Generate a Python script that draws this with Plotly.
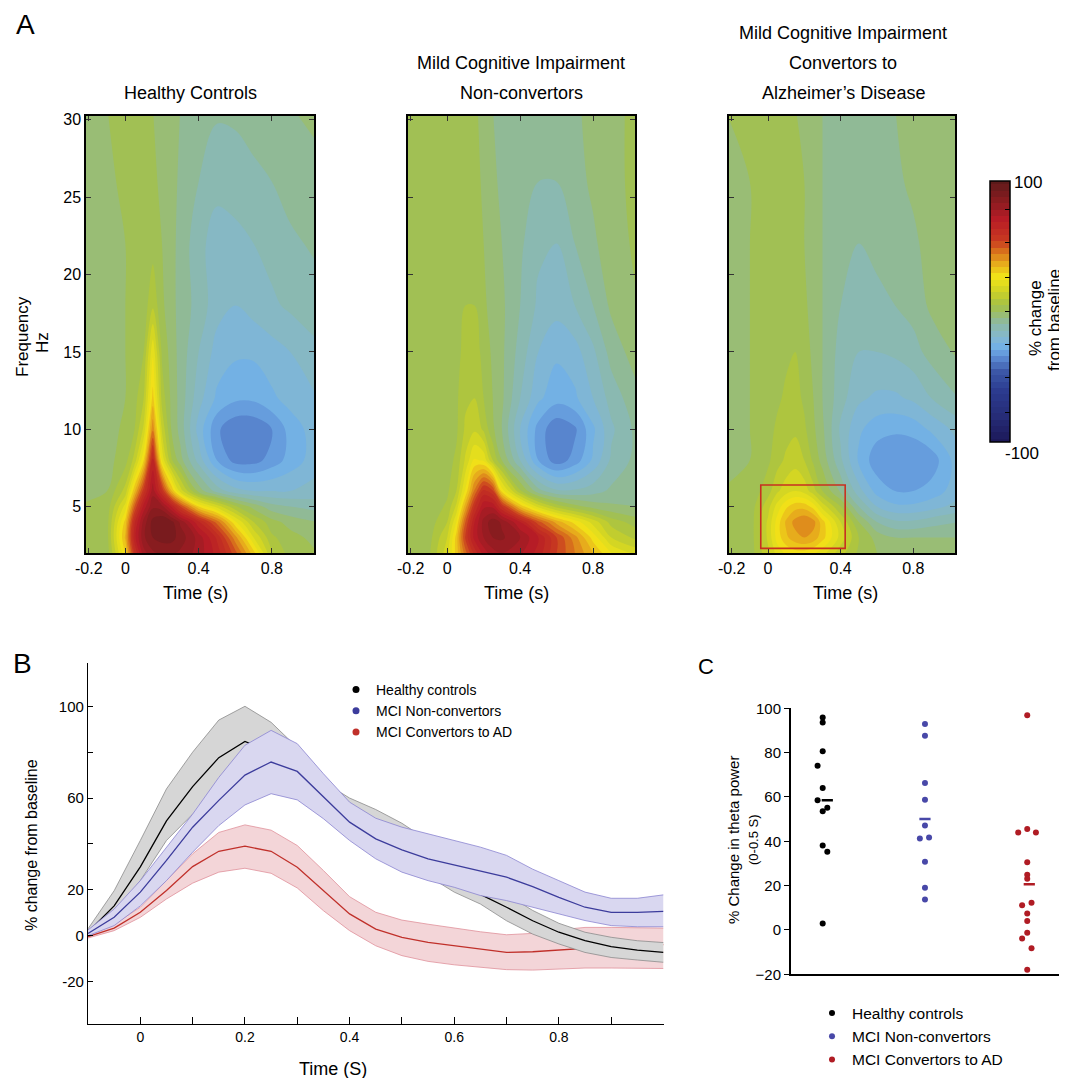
import numpy as np
import plotly.graph_objects as go

# page is drawn with the browser's 8px body margin, so place things in page pixels
PAGE_W, PAGE_H, OFF = 1067, 1078, 8
W, H = PAGE_W - OFF, PAGE_H - OFF

# ── Panel A: time-frequency maps (% change from baseline) ─────────────────────
tf_time = [-0.25, -0.1, 0, 0.05, 0.1, 0.15, 0.2, 0.25, 0.3, 0.4, 0.5, 0.6, 0.7, 0.8, 0.9, 1.05]
tf_freq = [2, 3, 4, 5, 6, 8, 10, 12, 15, 18, 22, 26, 31]

hc_power = [
    [0, 2, 30, 60, 78, 84, 86, 86, 84, 78, 68, 52, 32, 10, 3, 0],
    [0, 3, 36, 68, 84, 90, 92, 92, 88, 78, 64, 42, 20, 6, 2, -2],
    [0, 3, 32, 64, 82, 92, 95, 92, 84, 66, 48, 26, 10, 2, -2, -5],
    [0, 2, 22, 50, 72, 84, 82, 70, 55, 30, 18, 6, -2, -8, -10, -12],
    [-2, 0, 12, 34, 58, 78, 60, 36, 18, -2, -12, -18, -20, -20, -20, -18],
    [-4, -2, 3, 12, 30, 66, 24, 6, -3, -17, -30, -37, -37, -33, -28, -22],
    [-4, -2, 1, 5, 16, 44, 14, 0, -7, -22, -34, -39, -39, -35, -28, -22],
    [-3, -2, 0, 3, 10, 32, 8, -1, -7, -18, -26, -29, -29, -26, -23, -20],
    [-2, -2, 0, 1, 5, 24, 4, -2, -7, -15, -22, -24, -24, -22, -20, -16],
    [-2, -2, 0, 1, 2, 9, 1, -3, -7, -12, -18, -20, -18, -16, -14, -12],
    [-2, -1, 0, 1, 1, 3, 0, -3, -7, -13, -18, -17, -15, -13, -11, -9],
    [-2, -1, 1, 1, 1, 1, -1, -3, -6, -10, -13, -12, -11, -10, -8, -6],
    [-1, 0, 1, 2, 1, 0, -1, -3, -5, -8, -9, -9, -8, -7, -5, -4],
]
nc_power = [
    [2, 4, 18, 32, 48, 62, 72, 78, 80, 76, 68, 55, 45, 35, 25, 18],
    [2, 3, 15, 32, 56, 72, 80, 85, 86, 80, 70, 55, 42, 28, 15, 8],
    [1, 2, 10, 25, 50, 70, 82, 88, 84, 70, 52, 38, 28, 18, 8, 2],
    [0, 1, 6, 16, 38, 60, 74, 74, 60, 34, 18, 8, 2, -2, -4, -5],
    [0, 1, 4, 10, 26, 46, 62, 56, 28, 6, -8, -14, -14, -12, -9, -6],
    [0, 1, 3, 6, 16, 26, 24, 10, 0, -15, -30, -38, -33, -24, -14, -8],
    [0, 1, 2, 4, 11, 14, 9, 1, -5, -20, -32, -39, -36, -26, -16, -8],
    [1, 1, 2, 4, 9, 10, 5, 0, -4, -15, -24, -28, -26, -20, -13, -6],
    [1, 1, 2, 3, 7, 8, 3, -1, -4, -12, -20, -24, -22, -16, -8, -2],
    [1, 1, 2, 2, 5, 5, 1, -2, -4, -10, -16, -18, -15, -10, -4, 0],
    [1, 1, 1, 2, 3, 3, 0, -3, -5, -9, -14, -15, -10, -6, -2, 1],
    [1, 1, 1, 1, 2, 2, -1, -4, -6, -8, -10, -10, -7, -4, -1, 1],
    [1, 1, 1, 1, 1, 1, -2, -5, -7, -8, -8, -8, -6, -3, -1, 1],
]
cv_power = [
    [0, 2, 14, 22, 26, 28, 28, 26, 22, 12, 4, 0, -2, -2, -2, -2],
    [0, 2, 16, 27, 34, 38, 40, 38, 32, 18, 5, -2, -5, -5, -5, -5],
    [0, 2, 16, 27, 36, 42, 45, 42, 32, 15, 0, -10, -14, -14, -12, -10],
    [0, 2, 13, 22, 29, 33, 33, 28, 18, 5, -10, -20, -24, -24, -22, -18],
    [0, 1, 8, 14, 18, 20, 18, 12, 5, -6, -18, -27, -30, -30, -28, -22],
    [-1, 0, 4, 8, 11, 13, 10, 4, -2, -14, -26, -33, -35, -35, -33, -22],
    [-2, 0, 3, 6, 8, 9, 6, 1, -4, -16, -24, -28, -29, -28, -24, -18],
    [-2, 0, 2, 4, 6, 7, 4, 0, -5, -13, -19, -21, -21, -19, -15, -10],
    [-1, 0, 1, 3, 4, 5, 2, -1, -5, -12, -15, -15, -14, -12, -8, -4],
    [0, 0, 1, 2, 2, 3, 1, -2, -5, -10, -12, -11, -10, -8, -4, -2],
    [0, 0, 1, 1, 1, 1, 0, -2, -5, -8, -10, -9, -8, -6, -3, -1],
    [0, 0, 1, 1, 1, 1, 0, -3, -5, -7, -8, -8, -6, -4, -2, 0],
    [0, 1, 1, 1, 1, 0, -1, -3, -5, -6, -7, -6, -5, -3, -1, 0],
]
tf_titles = [
    ["Healthy Controls"],
    ["Mild Cognitive Impairment", "Non-convertors"],
    ["Mild Cognitive Impairment", "Convertors to", "Alzheimer\u2019s Disease"],
]

# ── Panel B: theta time course (mean and band edges) ──────────────────────────
tc_time = [-0.1, -0.05, 0, 0.05, 0.1, 0.15, 0.2, 0.25, 0.3, 0.35, 0.4, 0.45,
           0.5, 0.55, 0.6, 0.65, 0.7, 0.75, 0.8, 0.85, 0.9, 0.95, 1.0]
hc_mean = [1.5, 13, 30, 50, 65, 77.6, 84.7, 80, 71, 62, 55, 48,
           40, 32, 25, 18, 12.4, 6.5, 1.5, -2.2, -4.8, -6.3, -7.3]
hc_upper = [3, 19.6, 41.5, 64, 80, 94, 100, 93, 82, 67, 60, 55,
            49, 41.5, 33.5, 25.5, 18, 11, 5.4, 1.5, -0.7, -2.2, -3]
hc_lower = [0.7, 9.5, 24, 41.5, 53, 63, 70, 68, 61, 55, 48, 41,
            33, 26, 19, 13.8, 6.5, 0.7, -3.6, -7.3, -9.5, -10.6, -11.6]
nc_mean = [1, 8, 19, 32.8, 47.3, 59, 70, 75.7, 71.6, 60.4, 49.5, 42.2,
           37.4, 33.5, 30.9, 28, 25.5, 21.4, 16.7, 12.4, 10.2, 10.2, 10.6]
nc_upper = [2.5, 11.6, 24, 38.6, 53, 69, 83, 89.5, 83.7, 70.6, 58.2, 51.2,
            47.3, 44.4, 41.5, 38.6, 35, 29, 24, 19, 16.3, 16.3, 17.8]
nc_lower = [0, 4.4, 13, 24, 36.4, 48, 57, 61.9, 59.2, 51, 41.5, 33.5,
            27.7, 24, 21.1, 17.5, 15.3, 12.4, 9.5, 6.6, 4.4, 3.9, 3.9]
cv_mean = [-0.4, 3.3, 10.2, 19.7, 30.1, 36.8, 39, 36.8, 29.8, 19.7, 9.5, 2.9,
           -0.7, -2.9, -4.4, -5.8, -7.3, -7, -6.3, -5.4, -4.8, -4.4, -3.9]
cv_upper = [0.7, 5, 12.4, 24, 35.7, 45, 48.3, 46, 39.3, 28.4, 17, 10.2,
            6.8, 5, 3.3, 1.7, 0.4, 1, 2.5, 3.6, 3.6, 3.3, 3.3]
cv_lower = [-1, 2.2, 8, 16, 22.9, 27.7, 29.4, 27.2, 20.8, 10.9, 2.2, -4.4,
            -8.7, -11.2, -12.7, -13.8, -14.8, -15, -14.6, -14.1, -14.1, -14.3, -14.3]

# ── Panel C: % change in theta power (0-0.5 s), one dot per subject ───────────
c_groups = ["Healthy controls", "MCI Non-convertors", "MCI Convertors to AD"]
c_hc = [95.9, 93.6, 80.6, 74.1, 64.1, 58.5, 53.6, 55.1, 38.1, 35.3, 2.9]
c_nc = [92.9, 87.6, 66.3, 58.7, 47.1, 41.3, 41.7, 30.8, 19.1, 13.8]
c_cv = [96.9, 44.0, 45.5, 44.0, 30.6, 24.9, 23.1, 11.1, 12.3, 7.4, 4.1, -1.2, -3.9, -8.3, -18.0]
c_means = [58.5, 50.1, 20.6]

# horizontal jitter used in the dot plot
c_hc_jit = [0, 0, 0, -0.05, 0, -0.05, 0, 0.045, 0, 0.045, 0]
c_nc_jit = [0, 0, 0, 0, 0, -0.05, 0.04, 0, 0, 0]
c_cv_jit = [0, -0.088, 0, 0.085, 0, 0, 0, -0.05, 0.042, 0, 0, 0, -0.05, 0.042, 0]
c_mean_jit = [0.045, 0, 0.02]

# ── Styling ────────────────────────────────────────────────────────────────────
FONT = "Liberation Sans, Arial, sans-serif"
TF_SCALE = [
    [0.00, "#1c1858"], [0.10, "#262c78"], [0.20, "#2c3c90"], [0.27, "#3c58a8"],
    [0.32, "#5a88d0"], [0.36, "#70b0e8"], [0.40, "#84b8d0"], [0.45, "#8cb9a8"],
    [0.48, "#96bc80"], [0.51, "#a0c056"], [0.54, "#b0c63c"], [0.58, "#d0d424"],
    [0.63, "#f2e418"], [0.68, "#e8b01c"], [0.73, "#d8701c"], [0.77, "#c83a20"],
    [0.85, "#b81c26"], [0.92, "#8c1c20"], [1.00, "#5c1a1a"],
]
GROUP_COLORS = ["#000000", "#3c3c9c", "#c0302a"]
C_COLORS = ["#000000", "#4848a8", "#b01c24"]


def px(x):
    return (x - OFF) / W


def py(y):
    return 1 - (y - OFF) / H


fig = go.Figure()

# A panels
a_domains = [(86, 314), (408, 635), (729, 955)]
for i, z in enumerate([hc_power, nc_power, cv_power]):
    n = i + 1
    fig.add_trace(go.Contour(
        x=tf_time, y=tf_freq, z=z, coloraxis="coloraxis",
        contours=dict(start=-100, end=100, size=5, coloring="fill"),
        line=dict(width=0, smoothing=1.0),
        xaxis=f"x{n}", yaxis=f"y{n}", showscale=False, hoverinfo="skip"))

# B panel: red group first, then grey, then purple on top
band_fill = ["#d6d6d6", "#d9d7f0", "#f3d5d8"]
band_edge = ["#8c8c8c", "#8a84d0", "#e0909a"]
groups_b = [(cv_lower, cv_upper, cv_mean, 2),
            (hc_lower, hc_upper, hc_mean, 0),
            (nc_lower, nc_upper, nc_mean, 1)]
for lo, up, mu, g in groups_b:
    fig.add_trace(go.Scatter(x=tc_time, y=lo, mode="lines", xaxis="x4", yaxis="y4",
                             line=dict(color=band_edge[g], width=0.8), showlegend=False,
                             hoverinfo="skip"))
    fig.add_trace(go.Scatter(x=tc_time, y=up, mode="lines", xaxis="x4", yaxis="y4",
                             fill="tonexty", fillcolor=band_fill[g],
                             line=dict(color=band_edge[g], width=0.8), showlegend=False,
                             hoverinfo="skip"))
    fig.add_trace(go.Scatter(x=tc_time, y=mu, mode="lines", xaxis="x4", yaxis="y4",
                             line=dict(color=GROUP_COLORS[g], width=1.3), showlegend=False))

# legend entries for B (dots only)
for g, name in enumerate(c_groups):
    fig.add_trace(go.Scatter(x=[None], y=[None], mode="markers", name=name,
                             xaxis="x4", yaxis="y4", legend="legend",
                             marker=dict(color=GROUP_COLORS[g], size=7)))

# C panel
for g, (vals, jit) in enumerate([(c_hc, c_hc_jit), (c_nc, c_nc_jit), (c_cv, c_cv_jit)]):
    fig.add_trace(go.Scatter(
        x=[g + 1 + j for j in jit], y=vals, mode="markers", name=c_groups[g],
        xaxis="x5", yaxis="y5", legend="legend2",
        marker=dict(color=C_COLORS[g], size=6)))
fig.add_trace(go.Scatter(
    x=[g + 1 + j for g, j in enumerate(c_mean_jit)], y=c_means, mode="markers",
    xaxis="x5", yaxis="y5", showlegend=False,
    marker=dict(symbol="line-ew", size=8, color=C_COLORS,
                line=dict(width=2.5, color=C_COLORS))))

# ── Axes ───────────────────────────────────────────────────────────────────────
layout = dict(
    width=W, height=H, margin=dict(l=0, r=0, t=0, b=0, autoexpand=False),
    paper_bgcolor="white", plot_bgcolor="white",
    font=dict(family=FONT, color="black", size=16),
    coloraxis=dict(
        colorscale=TF_SCALE, cmin=-100, cmax=100,
        colorbar=dict(thickness=20, thicknessmode="pixels", len=261, lenmode="pixels",
                      x=px(990), xanchor="left", y=py(311.5), yanchor="middle",
                      xpad=0, ypad=0, outlinewidth=1.5, outlinecolor="black",
                      ticks="inside", ticklen=5, tickcolor="black",
                      tickvals=[-79, -52, -26, 0, 27, 54, 80], showticklabels=False)),
)

a_y0, a_y1 = py(553), py(116)
for i, (l, r) in enumerate(a_domains):
    n = i + 1
    layout[f"xaxis{n}"] = dict(
        domain=[px(l), px(r)], range=[-0.215, 1.03], anchor=f"y{n}",
        tickvals=[-0.2, 0, 0.4, 0.8], ticktext=["-0.2", "0", "0.4", "0.8"],
        ticks="inside", ticklen=5, tickcolor="#333", showline=True, linecolor="black",
        linewidth=1.5, mirror="ticks", showgrid=False, zeroline=False,
        automargin=False, tickfont=dict(size=16))
    layout[f"yaxis{n}"] = dict(
        domain=[a_y0, a_y1], range=[2, 30.25], anchor=f"x{n}",
        tickvals=[5, 10, 15, 20, 25, 30], ticks="inside", ticklen=5, tickcolor="#333",
        showline=True, linecolor="black", linewidth=1.5, mirror="ticks",
        showgrid=False, zeroline=False, showticklabels=(n == 1),
        automargin=False, tickfont=dict(size=16))

layout["xaxis4"] = dict(
    domain=[px(88), px(663.5)], range=[-0.1, 1.0], anchor="y4",
    tickvals=[0, 0.1, 0.2, 0.3, 0.4, 0.5, 0.6, 0.7, 0.8, 0.9],
    ticktext=["0", "", "0.2", "", "0.4", "", "0.6", "", "0.8", ""],
    ticks="inside", ticklen=7, tickcolor="black", showline=True, linecolor="black",
    linewidth=1.2, showgrid=False, zeroline=False, automargin=False,
    tickfont=dict(size=14))
layout["yaxis4"] = dict(
    domain=[py(1024), py(662.7)], range=[-38.5, 119], anchor="x4",
    tickvals=[-20, 0, 20, 40, 60, 80, 100],
    ticktext=["-20", "0", "20", "", "60", "", "100"],
    ticks="inside", ticklen=5, tickcolor="black", showline=True, linecolor="black",
    linewidth=1.2, showgrid=False, zeroline=False, automargin=False,
    tickfont=dict(size=15))

layout["xaxis5"] = dict(
    domain=[px(791), px(1062)], range=[0.69, 3.34], anchor="y5",
    showticklabels=False, ticks="", showline=True, linecolor="black", linewidth=2,
    showgrid=False, zeroline=False, automargin=False)
layout["yaxis5"] = dict(
    domain=[py(974.3), py(708.3)], range=[-20, 100], anchor="x5",
    tickvals=[-20, 0, 20, 40, 60, 80, 100], ticks="outside", ticklen=5,
    tickcolor="black", showline=True, linecolor="black", linewidth=2,
    showgrid=False, zeroline=False, automargin=False, tickfont=dict(size=15))

layout["legend"] = dict(x=px(336), y=py(674), xanchor="left", yanchor="top",
                        traceorder="normal", bgcolor="rgba(0,0,0,0)", font=dict(size=14))
layout["legend2"] = dict(x=px(812), y=py(996.5), xanchor="left", yanchor="top",
                         traceorder="normal", bgcolor="rgba(0,0,0,0)",
                         font=dict(size=15.5))

fig.update_layout(**layout)

# ── Text ───────────────────────────────────────────────────────────────────────
def note(x, y, text, size=16, angle=0, **kw):
    fig.add_annotation(x=px(x), y=py(y), xref="paper", yref="paper", text=text,
                       showarrow=False, font=dict(size=size), textangle=angle,
                       xanchor="center", yanchor="middle", **kw)


note(25, 25, "A", size=28)
note(22, 663, "B", size=28)
note(706, 666, "C", size=22)

title_cx = [190, 521, 843]
for cx, lines in zip(title_cx, tf_titles):
    for k, line in enumerate(lines):
        note(cx, 93 - 30 * (len(lines) - 1 - k), line, size=18)

for cx in [195, 517, 845]:
    note(cx, 593, "Time (s)", size=18)

note(22, 337, "Frequency", size=17, angle=-90)
note(42, 343, "Hz", size=17, angle=-90)

note(1028, 183, "100", size=17)
note(1022, 453, "-100", size=17)
note(1036, 318, "% change", size=17, angle=-90)
note(1055, 320, "from baseline", size=17, angle=-90)

note(31, 845, "% change from baseline", size=16, angle=-90)
note(333, 1069, "Time (S)", size=18)

note(733, 840, "% Change in theta power", size=15, angle=-90)
note(753, 840, "(0-0.5 S)", size=13, angle=-90)

# red box marking the early theta window in the convertor map
fig.add_shape(type="rect", xref="x3", yref="y3", x0=-0.04, x1=0.425, y0=2.3, y1=6.4,
              line=dict(color="#c83020", width=1.6))

fig.write_html("out.html")
